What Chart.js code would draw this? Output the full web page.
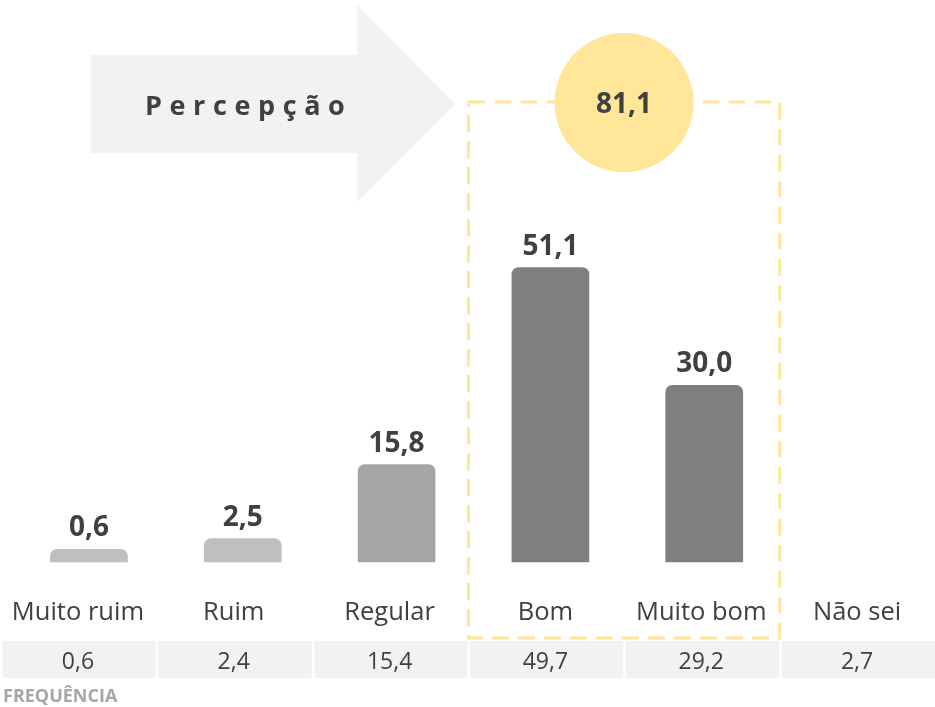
<!DOCTYPE html>
<html>
<head>
<meta charset="utf-8">
<script src="https://cdn.jsdelivr.net/npm/chart.js@4.4.1/dist/chart.umd.min.js"></script>
<style>
    html, body { margin: 0; padding: 0; background: #fff; }
    #wrap { width: 935px; height: 707px; position: relative; }
</style>
</head>
<body>
<div id="wrap"><canvas id="percepcaoChart"></canvas></div>
<script>
const categories = ['Muito ruim', 'Ruim', 'Regular', 'Bom', 'Muito bom', 'Não sei'];
const percepcao = [0.6, 2.5, 15.8, 51.1, 30.0, null];
const frequencia = [0.6, 2.4, 15.4, 49.7, 29.2, 2.7];
const destaque = [3, 4]; // Bom + Muito bom
const titulo = 'Percepção';
const rotuloTabela = 'FREQUÊNCIA';

const textColor = '#404040';
const yellow = '#ffe699';
const fmt = v => v.toFixed(1).replace('.', ',');

const overlay = {
    id: 'overlay',
    afterDraw(chart) {
        const ctx = chart.ctx;
        const colW = chart.width / categories.length;
        ctx.save();

        // arrow
        ctx.fillStyle = '#f2f2f2';
        ctx.beginPath();
        ctx.moveTo(91, 55);
        ctx.lineTo(357, 55);
        ctx.lineTo(357, 5);
        ctx.lineTo(455, 104);
        ctx.lineTo(357, 202);
        ctx.lineTo(357, 153);
        ctx.lineTo(91, 153);
        ctx.closePath();
        ctx.fill();

        ctx.fillStyle = textColor;
        ctx.font = 'bold 27px "Open Sans"';
        ctx.textBaseline = 'alphabetic';
        ctx.textAlign = 'left';
        let tx = 145;
        for (const ch of titulo) {
            ctx.fillText(ch, tx, 115);
            tx += ctx.measureText(ch).width + 7.6;
        }

        // dashed box round the highlighted columns
        const bx0 = destaque[0] * colW;
        const bx1 = (destaque[destaque.length - 1] + 1) * colW + 1.5;
        ctx.strokeStyle = yellow;
        ctx.lineWidth = 3;
        ctx.setLineDash([17, 9]);
        ctx.strokeRect(bx0 + 1, 102, bx1 - bx0 - 2, 536);
        ctx.setLineDash([]);

        // circle with the total
        const total = destaque.reduce((acc, i) => acc + percepcao[i], 0);
        const cx = (bx0 + bx1) / 2;
        ctx.fillStyle = yellow;
        ctx.beginPath();
        ctx.arc(cx, 102.5, 69.5, 0, Math.PI * 2);
        ctx.fill();
        ctx.fillStyle = textColor;
        ctx.font = 'bold 28px "Open Sans"';
        ctx.textAlign = 'center';
        ctx.fillText(fmt(total), cx, 113);

        // bar values
        const meta = chart.getDatasetMeta(0);
        meta.data.forEach((bar, i) => {
            if (percepcao[i] == null) return;
            ctx.fillText(fmt(percepcao[i]), bar.x, bar.y - 12.5);
        });

        // category labels
        ctx.font = '25.5px "Open Sans"';
        categories.forEach((c, i) => {
            ctx.fillText(c, colW * (i + 0.5), 620);
        });

        // frequency table
        frequencia.forEach((f, i) => {
            ctx.fillStyle = '#f2f2f2';
            ctx.fillRect(i * colW + 2.5, 641, colW - 2.5, 37);
            ctx.fillStyle = textColor;
            ctx.font = '23px "Open Sans"';
            ctx.fillText(fmt(f), colW * (i + 0.5), 669);
        });

        ctx.fillStyle = '#a6a6a6';
        ctx.font = 'bold 18px "Open Sans"';
        ctx.textAlign = 'left';
        ctx.fillText(rotuloTabela, 3, 702);

        ctx.restore();
    }
};

new Chart('percepcaoChart', {
    type: 'bar',
    data: {
        labels: categories,
        datasets: [{
            data: percepcao,
            base: -1.83,
            backgroundColor: ['#bfbfbf', '#bfbfbf', '#a5a5a5', '#7f7f7f', '#7f7f7f', '#7f7f7f'],
            borderRadius: 7,
            borderSkipped: 'start',
            barPercentage: 0.505,
            categoryPercentage: 1
        }]
    },
    options: {
        responsive: true,
        maintainAspectRatio: false,
        animation: false,
        devicePixelRatio: 1,
        layout: {
            padding: { left: 12, right: 0, top: 200, bottom: 144.5 }
        },
        plugins: {
            legend: { display: false },
            tooltip: { enabled: false }
        },
        scales: {
            x: { display: false },
            y: { display: false, min: -1.83, max: 63.17 }
        }
    },
    plugins: [overlay]
});
</script>
</body>
</html>
